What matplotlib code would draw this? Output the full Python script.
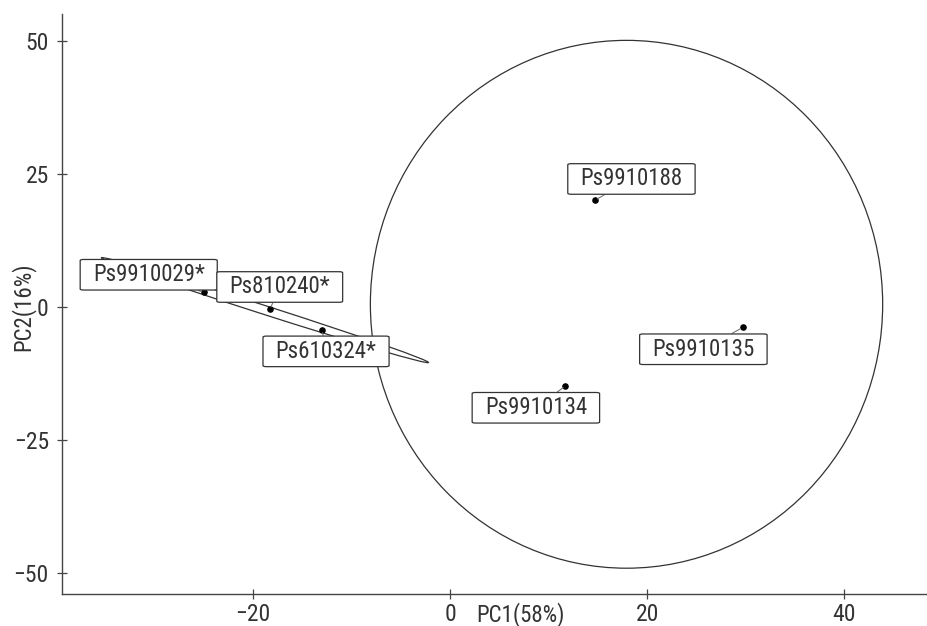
import matplotlib
matplotlib.use('Agg')
import matplotlib.pyplot as plt
from matplotlib import font_manager as fm
from matplotlib.patches import Ellipse


names = ['Ps9910029*', 'Ps810240*', 'Ps610324*', 'Ps9910188', 'Ps9910135', 'Ps9910134']
pc1 = [-25.0, -18.3, -13.0, 14.7, 29.7, 11.7]
pc2 = [2.8, -0.4, -4.3, 20.1, -3.8, -14.8]

# where the repelled labels ended up
label_x = [-30.6, -17.3, -12.6, 18.4, 25.7, 8.7]
label_y = [6.1, 3.8, -8.3, 24.1, -7.9, -18.9]

# ellipses: center x, center y, width, height, angle
starred_ell = (-18.8, -0.55, 38.6, 1.5, -30.7)
other_ell = (17.9, 0.55, 52.0, 99.2, 0)

# the original uses a narrow DIN-like face; take a condensed one if there is one
fonts = [(f.name, f.stretch, f.style) for f in fm.fontManager.ttflist]
condensed = [f[0] for f in fonts
             if f[1] in ('condensed', 'semi-condensed', 'extra-condensed') and f[2] == 'normal']
stretch = 'normal'
scale = 0.8
family = 'DejaVu Sans'
for pick in ['Liberation Sans Narrow', 'Roboto Condensed', 'Open Sans Condensed',
             'Noto Sans Condensed', 'DejaVu Sans']:
    if pick in condensed:
        family = pick
        stretch = 'condensed'
        scale = 1.0 if pick != 'DejaVu Sans' else 0.86
        break

plt.rcParams['font.family'] = [family, 'DejaVu Sans']
plt.rcParams['font.stretch'] = stretch
txt = '#333333'
fs_lab = 16.5 * scale
fs_tick = 17 * scale

fig = plt.figure(figsize=(9.27, 6.26), dpi=100)
ax = fig.add_axes([0.0669, 0.0511, 0.9331, 0.9265])

for e in (starred_ell, other_ell):
    ax.add_patch(Ellipse((e[0], e[1]), e[2], e[3], angle=e[4],
                         fill=False, edgecolor='#333333', lw=0.9))

ax.scatter(pc1, pc2, s=14, color='black', zorder=3)

for i in range(len(names)):
    ax.annotate(names[i], xy=(pc1[i], pc2[i]), xytext=(label_x[i], label_y[i]),
                ha='center', va='center', fontsize=fs_lab, color=txt, zorder=4,
                bbox=dict(boxstyle='round,pad=0.55,rounding_size=0.15', mutation_aspect=0.3,
                          fc='white', ec='#333333', lw=0.9),
                arrowprops=dict(arrowstyle='-', color='#777777', lw=0.8, shrinkA=0, shrinkB=2))

ax.set_xlim(-39.4, 48.4)
ax.set_ylim(-53.9, 55.1)
ax.set_xticks([-20, 0, 20, 40])
ax.set_yticks([-50, -25, 0, 25, 50])
ax.spines['top'].set_visible(False)
ax.spines['right'].set_visible(False)
for s in ('left', 'bottom'):
    ax.spines[s].set_color('#444444')
    ax.spines[s].set_linewidth(1.0)
ax.tick_params(direction='inout', length=7, width=0.9, color='#444444',
               labelsize=fs_tick, labelcolor=txt)
ax.tick_params(axis='x', pad=3)
ax.tick_params(axis='y', pad=6)

ax.text(0.5295, -0.0135, 'PC1(58%)', transform=ax.transAxes, ha='center', va='top',
        fontsize=fs_lab, color=txt, clip_on=False)
ax.text(-0.045, 0.495, 'PC2(16%)', transform=ax.transAxes, ha='center', va='center',
        rotation=90, fontsize=fs_lab, color=txt, clip_on=False)

fig.savefig('out.png', dpi=100)
